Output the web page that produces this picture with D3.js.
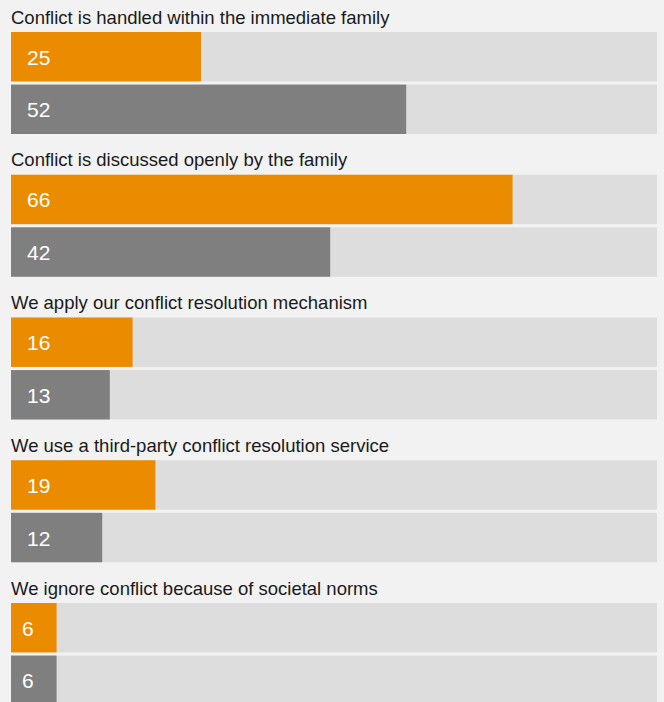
<!DOCTYPE html>
<html>
<head>
<meta charset="utf-8">
<script src="https://cdn.jsdelivr.net/npm/d3@7"></script>
<style>
  html, body { margin: 0; padding: 0; background: #f2f2f2; }
  svg { display: block; font-family: "Liberation Sans", Arial, sans-serif; }
</style>
</head>
<body>
<svg id="chart" width="664" height="702"></svg>
<script>
// Survey answers, one pair of bars per answer
const categories = [
  "Conflict is handled within the immediate family",
  "Conflict is discussed openly by the family",
  "We apply our conflict resolution mechanism",
  "We use a third-party conflict resolution service",
  "We ignore conflict because of societal norms"
];
const seriesKeys = ["first", "second"];
const firstValues = [25, 66, 16, 19, 6];
const secondValues = [52, 42, 13, 12, 6];
const valueMax = 85;

const seriesColors = { first: "#eb8c00", second: "#7f7f7f" };

const svg = d3.select("#chart");

const rows = categories.map((c, i) => ({
  category: c,
  values: [
    { key: "first", value: firstValues[i] },
    { key: "second", value: secondValues[i] }
  ]
}));

const x = d3.scaleLinear().domain([0, valueMax]).range([11, 657]);

const groupStep = 142.75;
const y = d3.scaleBand()
  .domain(categories)
  .range([32, 32 + groupStep * categories.length])
  .paddingInner(0).paddingOuter(0);

const ySub = d3.scaleBand()
  .domain(seriesKeys)
  .range([0, 102])
  .paddingInner(0.06)
  .paddingOuter(0);

const groups = svg.selectAll("g.group")
  .data(rows)
  .join("g")
  .attr("class", "group")
  .attr("transform", d => `translate(0,${y(d.category)})`);

// Category titles above each pair
groups.append("text")
  .attr("x", 11)
  .attr("y", -8.5)
  .attr("fill", "#1a1a1a")
  .style("font-size", "18.5px")
  .text(d => d.category);

// Full-width tracks
groups.selectAll("rect.track")
  .data(d => d.values)
  .join("rect")
  .attr("class", "track")
  .attr("x", x(0))
  .attr("y", d => ySub(d.key))
  .attr("width", x(valueMax) - x(0))
  .attr("height", ySub.bandwidth())
  .attr("fill", "#dddddd");

// Value bars
groups.selectAll("rect.bar")
  .data(d => d.values)
  .join("rect")
  .attr("class", "bar")
  .attr("x", x(0))
  .attr("y", d => ySub(d.key))
  .attr("width", d => x(d.value) - x(0))
  .attr("height", ySub.bandwidth())
  .attr("fill", d => seriesColors[d.key]);

// Value labels inside bars
groups.selectAll("text.val")
  .data(d => d.values)
  .join("text")
  .attr("class", "val")
  .attr("x", d => x(0) + (d.value < 10 ? 11 : 16))
  .attr("y", d => ySub(d.key) + ySub.bandwidth() / 2 + 8)
  .attr("fill", "#ffffff")
  .style("font-size", "21px")
  .text(d => d.value);
</script>
</body>
</html>
